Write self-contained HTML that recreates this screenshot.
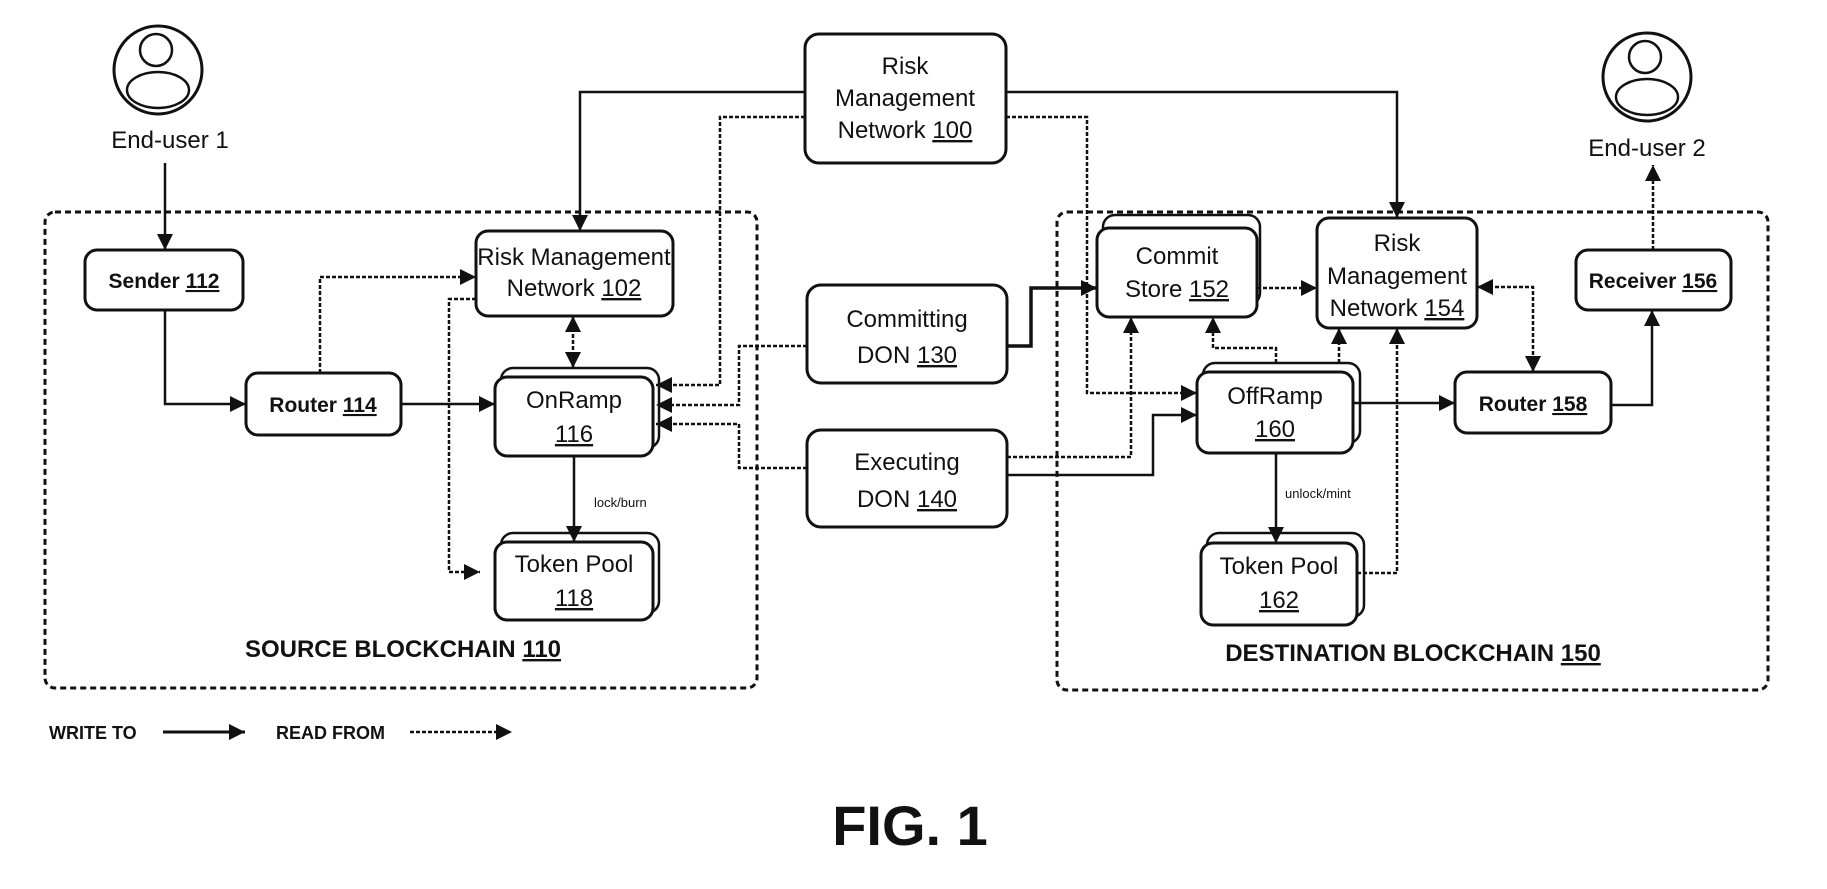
<!DOCTYPE html>
<html><head><meta charset="utf-8"><style>
html,body{margin:0;padding:0;background:#fff}
svg{display:block}
text{font-family:"Liberation Sans",sans-serif;fill:#111}
.n{font-size:24px}
.b{font-size:21px;font-weight:bold}
</style></head><body>
<svg width="1827" height="889" viewBox="0 0 1827 889" xmlns="http://www.w3.org/2000/svg">
<defs>
<marker id="a" viewBox="0 0 10 10" refX="10" refY="5" markerWidth="7" markerHeight="7" markerUnits="userSpaceOnUse" orient="auto-start-reverse"><path d="M0,0 L10,5 L0,10 z" fill="#111"/></marker>
<marker id="a2" viewBox="0 0 10 10" refX="10" refY="5" markerWidth="16" markerHeight="16" markerUnits="userSpaceOnUse" orient="auto-start-reverse"><path d="M0,0 L10,5 L0,10 z" fill="#111"/></marker>
</defs>
<g fill="none" stroke="#111">
<!-- blockchain containers -->
<rect x="45" y="212" width="712" height="476" rx="10" stroke-width="3" stroke-dasharray="6 4"/>
<rect x="1057" y="212" width="711" height="478" rx="10" stroke-width="3" stroke-dasharray="6 4"/>
<!-- user icons -->
<circle cx="158" cy="70" r="44" stroke-width="3"/>
<circle cx="156" cy="50" r="16" stroke-width="2.5"/>
<ellipse cx="158" cy="90" rx="31" ry="18" stroke-width="2.5"/>
<circle cx="1647" cy="77" r="44" stroke-width="3"/>
<circle cx="1645" cy="57" r="16" stroke-width="2.5"/>
<ellipse cx="1647" cy="97" rx="31" ry="18" stroke-width="2.5"/>
</g>
<!-- stacked backs -->
<g fill="#fff" stroke="#111" stroke-width="2.5">
<rect x="501" y="368" width="158" height="80" rx="12"/>
<rect x="501" y="533" width="158" height="80" rx="12"/>
<rect x="1103" y="215" width="157" height="90" rx="12"/>
<rect x="1203" y="363" width="157" height="80" rx="12"/>
<rect x="1207" y="533" width="157" height="84" rx="12"/>
</g>
<!-- boxes -->
<g fill="#fff" stroke="#111" stroke-width="3">
<rect x="85" y="250" width="158" height="60" rx="12"/>
<rect x="246" y="373" width="155" height="62" rx="12"/>
<rect x="476" y="231" width="197" height="85" rx="12"/>
<rect x="495" y="377" width="158" height="79" rx="12"/>
<rect x="495" y="542" width="158" height="78" rx="12"/>
<rect x="805" y="34" width="201" height="129" rx="14"/>
<rect x="807" y="285" width="200" height="98" rx="14"/>
<rect x="807" y="430" width="200" height="97" rx="14"/>
<rect x="1097" y="228" width="160" height="89" rx="12"/>
<rect x="1317" y="218" width="160" height="110" rx="12"/>
<rect x="1576" y="250" width="155" height="60" rx="12"/>
<rect x="1197" y="372" width="156" height="81" rx="12"/>
<rect x="1455" y="372" width="156" height="61" rx="12"/>
<rect x="1201" y="543" width="156" height="82" rx="12"/>
</g>
<!-- solid connectors -->
<g fill="none" stroke="#111" stroke-width="2.5" marker-end="url(#a2)">
<path d="M165,163 V250"/>
<path d="M165,310 V404 H246"/>
<path d="M401,404 H495"/>
<path d="M574,456 V542"/>
<path d="M805,92 H580 V231"/>
<path d="M1006,92 H1397 V218"/>
<path d="M1007,346 H1031 V288 H1097" stroke-width="3.5"/>
<path d="M1007,475 H1153 V415 H1197"/>
<path d="M1353,403 H1455"/>
<path d="M1611,405 H1652 V310"/>
<path d="M1276,453 V543"/>
</g>
<!-- dashed connectors -->
<g fill="none" stroke="#111" stroke-width="2.5" stroke-dasharray="4 2" marker-end="url(#a2)">
<path d="M320,373 V277 H476"/>
<path d="M476,299 H449 V572 H480"/>
<path d="M573,368 V316" marker-start="url(#a2)"/>
<path d="M805,117 H720 V385 H656"/>
<path d="M807,346 H739 V405 H656"/>
<path d="M807,468 H739 V424 H656"/>
<path d="M1006,117 H1087 V393 H1197"/>
<path d="M1007,457 H1131 V317"/>
<path d="M1276,363 V348 H1213 V317"/>
<path d="M1339,363 V328"/>
<path d="M1357,573 H1397 V328"/>
<path d="M1257,288 H1317"/>
<path d="M1477,287 H1533 V372" marker-start="url(#a2)"/>
<path d="M1653,250 V165"/>
</g>
<!-- legend arrows -->
<path d="M163,732 H245" stroke="#111" stroke-width="3" fill="none" marker-end="url(#a2)"/>
<path d="M410,732 H512" stroke="#111" stroke-width="2.5" stroke-dasharray="4 2" fill="none" marker-end="url(#a2)"/>

<g text-anchor="middle">
<text class="n" x="170" y="148">End-user 1</text>
<text class="n" x="1647" y="156">End-user 2</text>
<text class="b" x="164" y="288">Sender <tspan text-decoration="underline">112</tspan></text>
<text class="b" x="323" y="412">Router <tspan text-decoration="underline">114</tspan></text>
<text class="n" x="574" y="265" font-size="22">Risk Management</text>
<text class="n" x="574" y="296" font-size="22">Network <tspan text-decoration="underline">102</tspan></text>
<text class="n" x="574" y="408">OnRamp</text>
<text class="n" x="574" y="442"><tspan text-decoration="underline">116</tspan></text>
<text class="n" x="574" y="572">Token Pool</text>
<text class="n" x="574" y="606"><tspan text-decoration="underline">118</tspan></text>
<text class="n" x="905" y="74">Risk</text>
<text class="n" x="905" y="106">Management</text>
<text class="n" x="905" y="138">Network <tspan text-decoration="underline">100</tspan></text>
<text class="n" x="907" y="327" font-size="27">Committing</text>
<text class="n" x="907" y="363" font-size="27">DON <tspan text-decoration="underline">130</tspan></text>
<text class="n" x="907" y="470" font-size="27">Executing</text>
<text class="n" x="907" y="507" font-size="27">DON <tspan text-decoration="underline">140</tspan></text>
<text class="n" x="1177" y="264">Commit</text>
<text class="n" x="1177" y="297">Store <tspan text-decoration="underline">152</tspan></text>
<text class="n" x="1397" y="251">Risk</text>
<text class="n" x="1397" y="284">Management</text>
<text class="n" x="1397" y="316">Network <tspan text-decoration="underline">154</tspan></text>
<text class="b" x="1653" y="288">Receiver <tspan text-decoration="underline">156</tspan></text>
<text class="n" x="1275" y="404">OffRamp</text>
<text class="n" x="1275" y="437"><tspan text-decoration="underline">160</tspan></text>
<text class="b" x="1533" y="411">Router <tspan text-decoration="underline">158</tspan></text>
<text class="n" x="1279" y="574">Token Pool</text>
<text class="n" x="1279" y="608"><tspan text-decoration="underline">162</tspan></text>
<text x="403" y="657" font-size="24" font-weight="bold">SOURCE BLOCKCHAIN <tspan text-decoration="underline">110</tspan></text>
<text x="1413" y="661" font-size="24" font-weight="bold">DESTINATION BLOCKCHAIN <tspan text-decoration="underline">150</tspan></text>
<text x="910" y="845" font-size="56" font-weight="bold">FIG. 1</text>
</g>
<text x="594" y="507" font-size="13">lock/burn</text>
<text x="1285" y="498" font-size="13">unlock/mint</text>
<text x="49" y="739" font-size="18" font-weight="bold">WRITE TO</text>
<text x="276" y="739" font-size="18" font-weight="bold">READ FROM</text>
</svg>
</body></html>
